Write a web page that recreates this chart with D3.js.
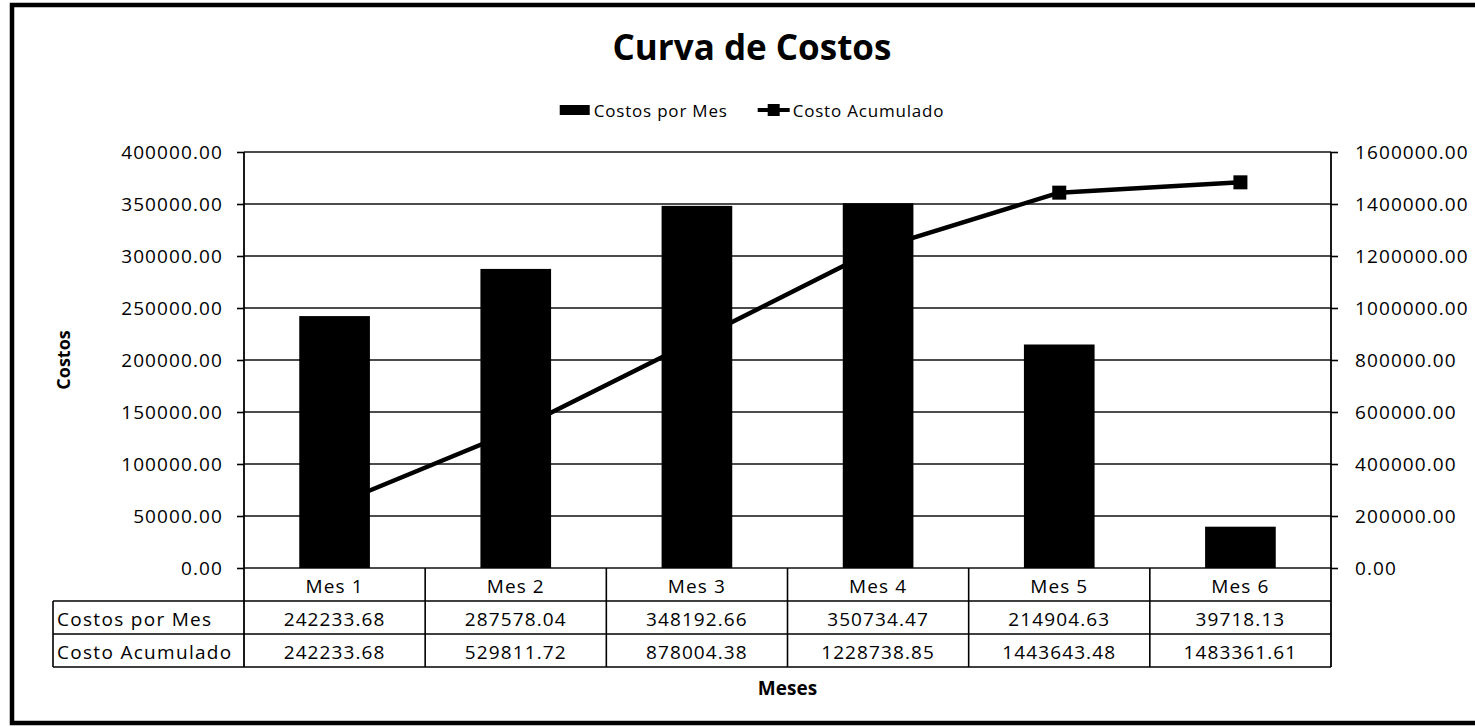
<!DOCTYPE html>
<html>
<head>
<meta charset="utf-8">
<script src="https://cdn.jsdelivr.net/npm/d3@7"></script>
<style>
  html, body { margin: 0; padding: 0; background: #fff; }
  svg { display: block; }
  text { font-family: "Open Sans", "Noto Sans", sans-serif; fill: #000; }
</style>
</head>
<body>
<svg id="chart" width="1475" height="727"></svg>
<script>
// Monthly costs and running total
const months = ["Mes 1", "Mes 2", "Mes 3", "Mes 4", "Mes 5", "Mes 6"];
const costosPorMes = [242233.68, 287578.04, 348192.66, 350734.47, 214904.63, 39718.13];
const costoAcumulado = [242233.68, 529811.72, 878004.38, 1228738.85, 1443643.48, 1483361.61];
const leftTicks = [0, 50000, 100000, 150000, 200000, 250000, 300000, 350000, 400000];
const rightTicks = [0, 200000, 400000, 600000, 800000, 1000000, 1200000, 1400000, 1600000];
const seriesNames = ["Costos por Mes", "Costo Acumulado"];

const W = 1475, H = 727;
const plot = { left: 244, right: 1331, top: 152, bottom: 568 };
const rowH = 33;
const labelColLeft = 53;

const svg = d3.select("#chart");
const fmt = d3.format(".2f");

// Chart frame
svg.append("rect")
  .attr("x", 12).attr("y", 5)
  .attr("width", W + 20).attr("height", H - 9)
  .attr("fill", "none").attr("stroke", "#000").attr("stroke-width", 4.5);

// Scales
const x = d3.scaleBand().domain(months).range([plot.left, plot.right]).paddingInner(0).paddingOuter(0);
const yL = d3.scaleLinear().domain([0, 400000]).range([plot.bottom, plot.top]);
const yR = d3.scaleLinear().domain([0, 1600000]).range([plot.bottom, plot.top]);

// Gridlines
svg.append("g")
  .selectAll("line").data(leftTicks).join("line")
  .attr("x1", plot.left).attr("x2", plot.right)
  .attr("y1", d => yL(d)).attr("y2", d => yL(d))
  .attr("stroke", "#111").attr("stroke-width", 1.6);

// Left axis
const axL = svg.append("g").attr("transform", `translate(${plot.left},0)`)
  .call(d3.axisLeft(yL).tickValues(leftTicks).tickFormat(fmt).tickSize(7).tickPadding(14));
axL.select(".domain").remove();
axL.selectAll(".tick line").attr("stroke", "#000").attr("stroke-width", 1.6);
axL.selectAll(".tick text").attr("font-size", 19).attr("letter-spacing", 1.1)
  .attr("font-family", "Open Sans").attr("fill", "#000");

// Right axis
const axR = svg.append("g").attr("transform", `translate(${plot.right},0)`)
  .call(d3.axisRight(yR).tickValues(rightTicks).tickFormat(fmt).tickSize(7).tickPadding(17));
axR.select(".domain").remove();
axR.selectAll(".tick line").attr("stroke", "#000").attr("stroke-width", 1.6);
axR.selectAll(".tick text").attr("font-size", 19).attr("letter-spacing", 1.1)
  .attr("font-family", "Open Sans").attr("fill", "#000");

// Bars
const barW = x.bandwidth() * 0.39;
svg.append("g")
  .selectAll("rect").data(costosPorMes).join("rect")
  .attr("x", (d, i) => x(months[i]) + (x.bandwidth() - barW) / 2)
  .attr("y", d => yL(d))
  .attr("width", barW)
  .attr("height", d => yL(0) - yL(d))
  .attr("fill", "#000");

// Cumulative line with square markers
const line = d3.line()
  .x((d, i) => x(months[i]) + x.bandwidth() / 2)
  .y(d => yR(d));
svg.append("path").datum(costoAcumulado)
  .attr("d", line)
  .attr("fill", "none").attr("stroke", "#000").attr("stroke-width", 4.5)
  .attr("stroke-linejoin", "round");
const mk = 14;
svg.append("g")
  .selectAll("rect").data(costoAcumulado).join("rect")
  .attr("x", (d, i) => x(months[i]) + x.bandwidth() / 2 - mk / 2)
  .attr("y", d => yR(d) - mk / 2)
  .attr("width", mk).attr("height", mk)
  .attr("fill", "#000");

// Axis lines framing the plot, extended through the data table
const tableBottom = plot.bottom + rowH * 3;
svg.append("line")
  .attr("x1", plot.left).attr("x2", plot.left)
  .attr("y1", plot.top).attr("y2", tableBottom)
  .attr("stroke", "#000").attr("stroke-width", 1.8);
svg.append("line")
  .attr("x1", plot.right).attr("x2", plot.right)
  .attr("y1", plot.top).attr("y2", tableBottom)
  .attr("stroke", "#000").attr("stroke-width", 1.8);

// Data table
const tbl = svg.append("g");
// vertical separators between months
tbl.selectAll("line.sep").data(months.slice(1)).join("line")
  .attr("class", "sep")
  .attr("x1", d => x(d)).attr("x2", d => x(d))
  .attr("y1", plot.bottom).attr("y2", tableBottom)
  .attr("stroke", "#000").attr("stroke-width", 1.6);
// horizontal rules
[1, 2, 3].forEach(r => {
  tbl.append("line")
    .attr("x1", labelColLeft).attr("x2", plot.right)
    .attr("y1", plot.bottom + rowH * r).attr("y2", plot.bottom + rowH * r)
    .attr("stroke", "#000").attr("stroke-width", 1.6);
});
tbl.append("line")
  .attr("x1", labelColLeft).attr("x2", labelColLeft)
  .attr("y1", plot.bottom + rowH).attr("y2", tableBottom)
  .attr("stroke", "#000").attr("stroke-width", 1.6);

// header row: month names
tbl.selectAll("text.hdr").data(months).join("text")
  .attr("class", "hdr")
  .attr("x", d => x(d) + x.bandwidth() / 2)
  .attr("y", plot.bottom + rowH / 2 + 1)
  .attr("text-anchor", "middle").attr("dominant-baseline", "central")
  .attr("font-size", 19).attr("letter-spacing", 1.1)
  .text(d => d);

// value rows
[costosPorMes, costoAcumulado].forEach((vals, r) => {
  const cy = plot.bottom + rowH * (r + 1) + rowH / 2 + 1;
  tbl.append("text")
    .attr("x", labelColLeft + 4).attr("y", cy)
    .attr("dominant-baseline", "central")
    .attr("font-size", 19).attr("letter-spacing", 1.3)
    .text(seriesNames[r]);
  tbl.selectAll(null).data(vals).join("text")
    .attr("x", (d, i) => x(months[i]) + x.bandwidth() / 2)
    .attr("y", cy)
    .attr("text-anchor", "middle").attr("dominant-baseline", "central")
    .attr("font-size", 19).attr("letter-spacing", 1.1)
    .text(d => fmt(d));
});

// Titles
svg.append("text")
  .attr("x", 752).attr("y", 60)
  .attr("text-anchor", "middle")
  .attr("font-size", 35).attr("font-weight", 700)
  .text("Curva de Costos");

svg.append("text")
  .attr("x", (plot.left + plot.right) / 2).attr("y", 695)
  .attr("text-anchor", "middle")
  .attr("font-size", 19).attr("font-weight", 700)
  .text("Meses");

svg.append("text")
  .attr("transform", `translate(70,${(plot.top + plot.bottom) / 2}) rotate(-90)`)
  .attr("text-anchor", "middle")
  .attr("font-size", 18).attr("font-weight", 700)
  .text("Costos");

// Legend
const legend = svg.append("g").attr("transform", "translate(0,110)");
const lg1 = legend.append("g");
lg1.append("rect").attr("x", 0).attr("y", -5).attr("width", 30).attr("height", 10).attr("fill", "#000");
lg1.append("text").attr("x", 34).attr("y", 0).attr("dominant-baseline", "central")
  .attr("font-size", 17).attr("letter-spacing", 0.8).text(seriesNames[0]);
const lg2 = legend.append("g");
lg2.append("line").attr("x1", 0).attr("x2", 32).attr("y1", 0).attr("y2", 0)
  .attr("stroke", "#000").attr("stroke-width", 4);
lg2.append("rect").attr("x", 10).attr("y", -6).attr("width", 12).attr("height", 12).attr("fill", "#000");
lg2.append("text").attr("x", 35).attr("y", 0).attr("dominant-baseline", "central")
  .attr("font-size", 17).attr("letter-spacing", 0.8).text(seriesNames[1]);

// lay out legend entries side by side, centred under the title
const w1 = lg1.node().getBBox().width;
const w2 = lg2.node().getBBox().width;
const gap = 30;
const total = w1 + gap + w2;
const startX = 752 - total / 2;
lg1.attr("transform", `translate(${startX},0)`);
lg2.attr("transform", `translate(${startX + w1 + gap},0)`);
</script>
</body>
</html>
